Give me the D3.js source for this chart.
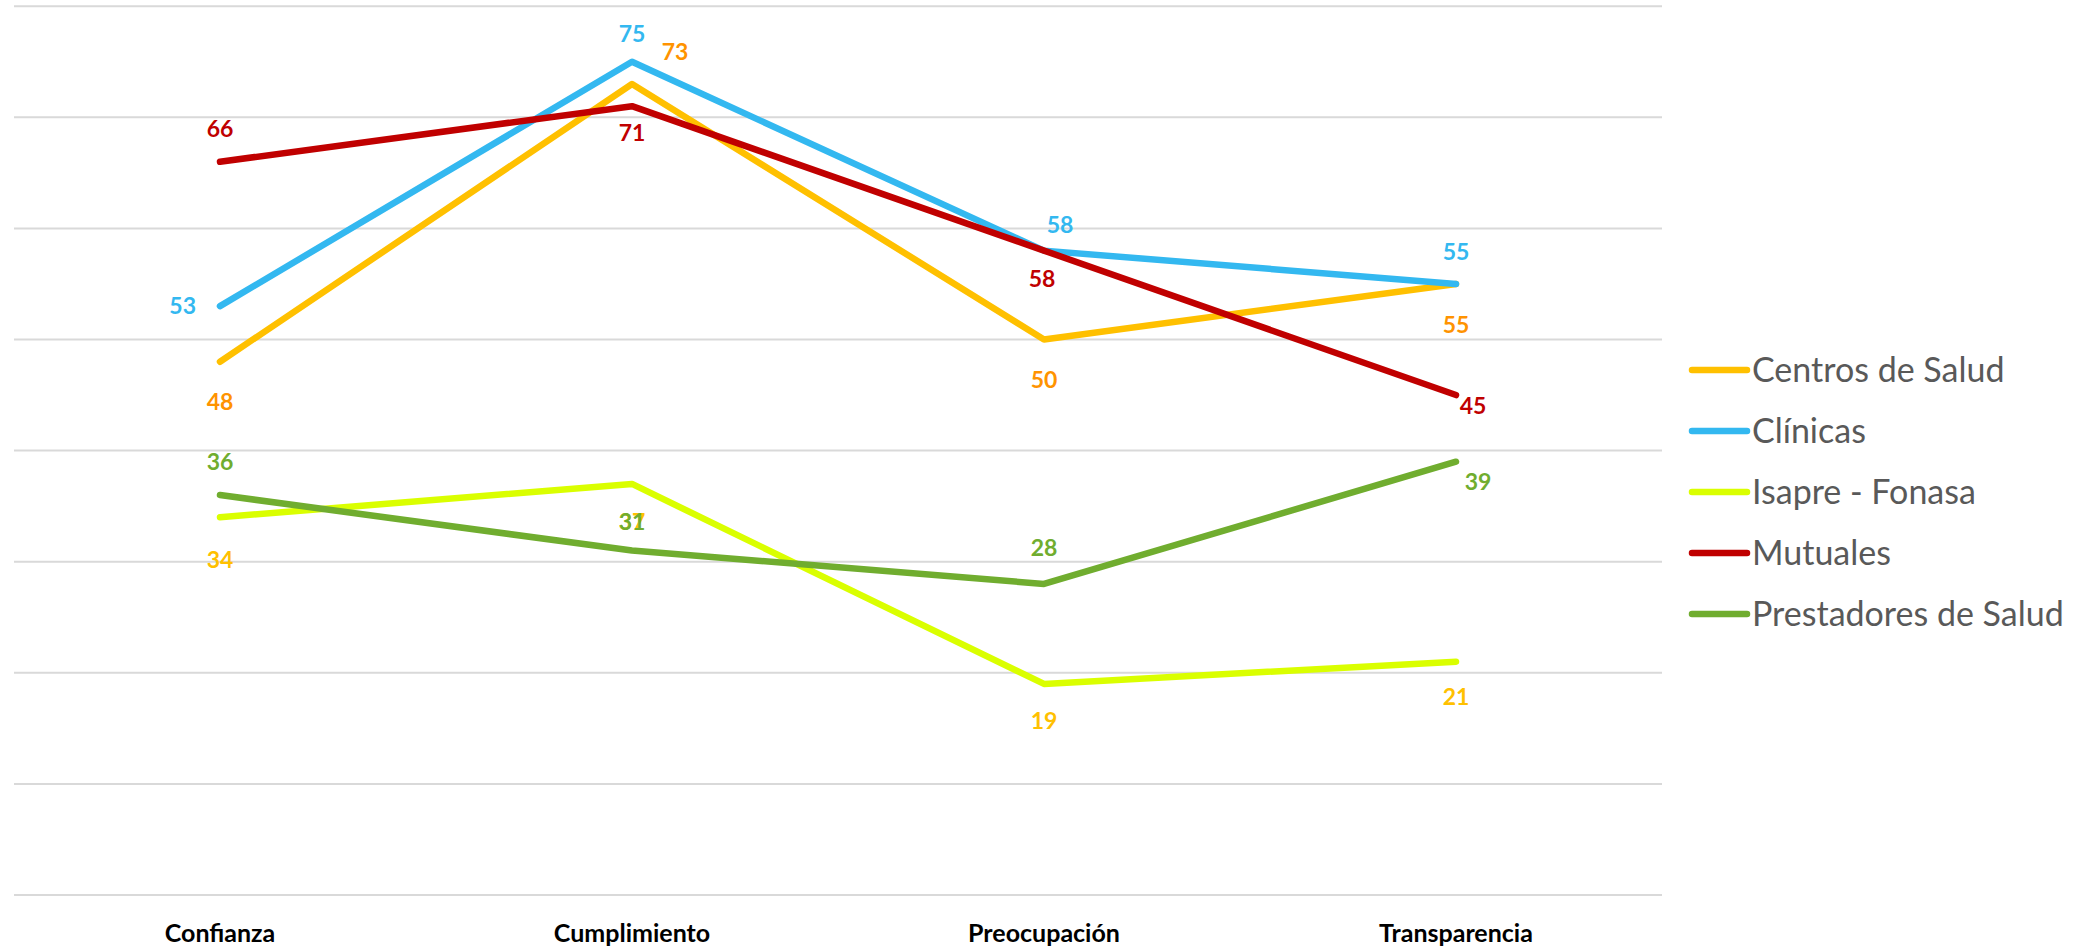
<!DOCTYPE html>
<html>
<head>
<meta charset="utf-8">
<script src="https://cdn.jsdelivr.net/npm/d3@7"></script>
<style>
  html, body { margin: 0; padding: 0; background: #fff; }
  svg { display: block; }
</style>
</head>
<body>
<svg id="chart" width="2094" height="947"></svg>
<script>
// ---- data ----
const categories = ["Confianza", "Cumplimiento", "Preocupación", "Transparencia"];
const seriesNames = ["Centros de Salud", "Clínicas", "Isapre - Fonasa", "Mutuales", "Prestadores de Salud"];
const centrosDeSalud = [48, 73, 50, 55];
const clinicas = [53, 75, 58, 55];
const isapreFonasa = [34, 37, 19, 21];
const mutuales = [66, 71, 58, 45];
const prestadoresDeSalud = [36, 31, 28, 39];
const yTicks = [0, 10, 20, 30, 40, 50, 60, 70, 80];

// ---- styles ----
const lineColors = ["#FFC000", "#33B8F0", "#DAFF00", "#C00000", "#70AD2F"];
const labelColors = ["#FF9300", "#33B8F0", "#FFC000", "#C00000", "#70AD2F"];
// label placement offsets (dx, dy) in px relative to each point, per series / category
const labelOffsets = [
  [[0, 40], [43, -32], [0, 40], [0, 41]],
  [[-24, 0], [0, -28], [16, -26], [0, -32]],
  [[0, 42], [0, 38], [0, 37], [0, 35]],
  [[0, -33], [0, 27], [-2, 28], [17, 11]],
  [[0, -33], [0, -29], [0, -36], [22, 20]]
];
const labelAnchor = [
  ["middle","middle","middle","middle"],
  ["end","middle","middle","middle"],
  ["middle","middle","middle","middle"],
  ["middle","middle","middle","middle"],
  ["middle","middle","middle","middle"]
];

const allSeries = [centrosDeSalud, clinicas, isapreFonasa, mutuales, prestadoresDeSalud];

const svg = d3.select("#chart");
const plot = { left: 14, right: 1662, top: 6.2, bottom: 895 };

const x = d3.scaleBand().domain(categories).range([plot.left, plot.right]);
const y = d3.scaleLinear().domain([0, 80]).range([plot.bottom, plot.top]);
const cx = c => x(c) + x.bandwidth() / 2;

// gridlines
svg.append("g")
  .selectAll("line")
  .data(yTicks)
  .join("line")
  .attr("x1", plot.left).attr("x2", plot.right)
  .attr("y1", d => y(d)).attr("y2", d => y(d))
  .attr("stroke", "#D9D9D9").attr("stroke-width", 2);

// x axis labels
const xAxis = d3.axisBottom(x).tickSize(0).tickPadding(0);
const gx = svg.append("g").attr("transform", `translate(0, ${plot.bottom})`).call(xAxis);
gx.select(".domain").remove();
gx.selectAll("text")
  .attr("y", 47).attr("dy", 0)
  .attr("font-family", "Lato, 'Open Sans', sans-serif")
  .attr("font-weight", "bold")
  .attr("font-size", 25)
  .attr("fill", "#000");

// lines
const line = d3.line().x((d, i) => cx(categories[i])).y(d => y(d));
svg.append("g")
  .selectAll("path")
  .data(allSeries)
  .join("path")
  .attr("d", d => line(d))
  .attr("fill", "none")
  .attr("stroke", (d, i) => lineColors[i])
  .attr("stroke-width", 6.5)
  .attr("stroke-linecap", "round")
  .attr("stroke-linejoin", "round");

// data labels
const labelData = [];
allSeries.forEach((s, si) => s.forEach((v, ci) => labelData.push({ si, ci, v })));
svg.append("g")
  .selectAll("text")
  .data(labelData)
  .join("text")
  .attr("x", d => cx(categories[d.ci]) + labelOffsets[d.si][d.ci][0])
  .attr("y", d => y(d.v) + labelOffsets[d.si][d.ci][1])
  .attr("dy", "0.36em")
  .attr("text-anchor", d => labelAnchor[d.si][d.ci])
  .attr("font-family", "Lato, 'Open Sans', sans-serif")
  .attr("font-weight", "bold")
  .attr("font-size", 23)
  .attr("fill", d => labelColors[d.si])
  .text(d => d.v);

// legend
const legend = svg.append("g");
const legendY = d3.scalePoint().domain(seriesNames).range([370, 614]);
const items = legend.selectAll("g").data(seriesNames).join("g")
  .attr("transform", d => `translate(0, ${legendY(d)})`);
items.append("line")
  .attr("x1", 1692).attr("x2", 1747).attr("y1", 0).attr("y2", 0)
  .attr("stroke", (d, i) => lineColors[i])
  .attr("stroke-width", 6.5)
  .attr("stroke-linecap", "round");
items.append("text")
  .attr("x", 1752).attr("y", 0).attr("dy", "0.35em")
  .attr("font-family", "Lato, 'Open Sans', sans-serif")
  .attr("font-size", 34)
  .attr("fill", "#595959")
  .text(d => d);
</script>
</body>
</html>
